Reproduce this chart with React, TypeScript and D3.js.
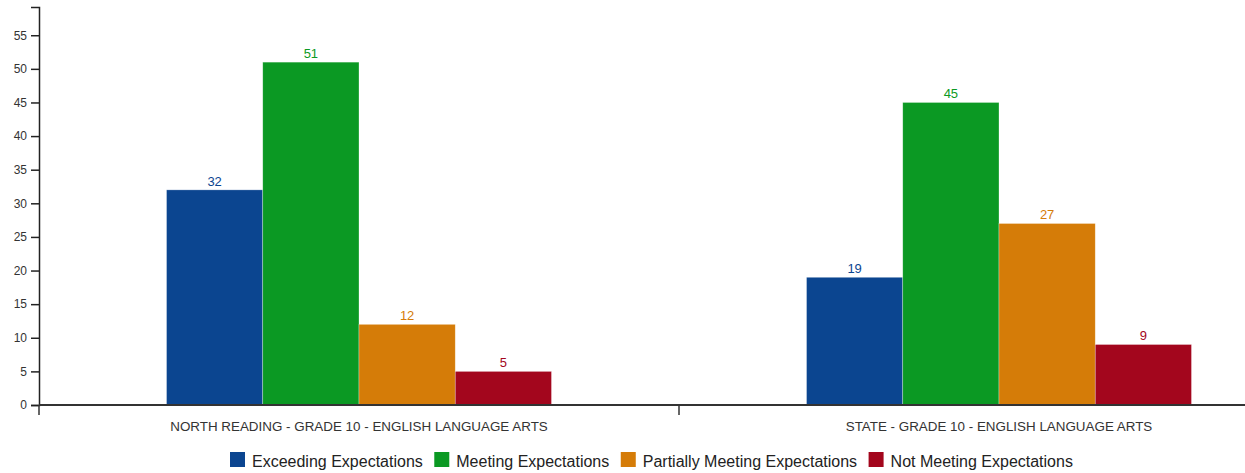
import React, { useEffect, useRef } from "react";
import * as d3 from "d3";

const categories = [
  "NORTH READING - GRADE 10 - ENGLISH LANGUAGE ARTS",
  "STATE - GRADE 10 - ENGLISH LANGUAGE ARTS",
];
const seriesNames = [
  "Exceeding Expectations",
  "Meeting Expectations",
  "Partially Meeting Expectations",
  "Not Meeting Expectations",
];
const seriesColors = ["#0b4590", "#0b9923", "#d57c08", "#a3061d"];
const northValues = [32, 51, 12, 5];
const stateValues = [19, 45, 27, 9];
const yTicks = [0, 5, 10, 15, 20, 25, 30, 35, 40, 45, 50, 55];

const W = 1245;
const H = 473;
const FONT = "'Liberation Sans', Arial, sans-serif";

export default function App() {
  const ref = useRef<SVGSVGElement | null>(null);

  useEffect(() => {
    const svg = d3.select(ref.current);
    svg.selectAll("*").remove();

    const x0 = 39;
    const y0 = 405;
    const yTop = 7;
    const bandW = 640;

    const x = d3
      .scaleBand<string>()
      .domain(categories)
      .range([x0, x0 + bandW * categories.length])
      .padding(0);
    const xi = d3
      .scaleBand<string>()
      .domain(seriesNames)
      .range([0, x.bandwidth()])
      .paddingInner(0)
      .paddingOuter(1.325);
    const y = d3.scaleLinear().domain([0, 59.2]).range([y0, yTop]);

    const data = [northValues, stateValues];

    // bars
    categories.forEach((cat, ci) => {
      const g = svg.append("g").attr("transform", `translate(${x(cat)},0)`);
      seriesNames.forEach((s, si) => {
        const v = data[ci][si];
        g.append("rect")
          .attr("x", xi(s)!)
          .attr("y", y(v))
          .attr("width", xi.bandwidth())
          .attr("height", y(0) - y(v))
          .attr("fill", seriesColors[si])
          .attr("stroke", "rgba(255,255,255,0.5)")
          .attr("stroke-width", 0.6);
        g.append("text")
          .attr("x", xi(s)! + xi.bandwidth() / 2)
          .attr("y", y(v) - 4)
          .attr("text-anchor", "middle")
          .attr("font-family", FONT)
          .attr("font-size", 13)
          .attr("fill", seriesColors[si])
          .text(String(v));
      });
    });

    // y axis
    const yAxis = d3
      .axisLeft(y)
      .tickValues(yTicks)
      .tickSize(8)
      .tickSizeOuter(8)
      .tickPadding(4)
      .tickFormat(d3.format("d") as any);
    const ga = svg
      .append("g")
      .attr("transform", `translate(${x0},0)`)
      .call(yAxis as any);
    ga.select(".domain").attr("stroke", "#222").attr("stroke-width", 1.5);
    ga.selectAll(".tick line").attr("stroke", "#222").attr("stroke-width", 1.5);
    ga.selectAll(".tick text")
      .attr("font-family", FONT)
      .attr("font-size", 12)
      .attr("fill", "#333");

    // x axis
    const gx = svg.append("g");
    gx.append("line")
      .attr("x1", x0)
      .attr("x2", W)
      .attr("y1", y0)
      .attr("y2", y0)
      .attr("stroke", "#333")
      .attr("stroke-width", 2);
    categories.forEach((cat) => {
      gx.append("line")
        .attr("x1", x(cat)!)
        .attr("x2", x(cat)!)
        .attr("y1", y0)
        .attr("y2", y0 + 10)
        .attr("stroke", "#333")
        .attr("stroke-width", 1.5);
      gx.append("text")
        .attr("x", x(cat)! + x.bandwidth() / 2)
        .attr("y", 431)
        .attr("text-anchor", "middle")
        .attr("font-family", FONT)
        .attr("font-size", 13.4)
        .attr("fill", "#333")
        .text(cat);
    });

    // legend
    const lg = svg.append("g");
    let lx = 230;
    seriesNames.forEach((s, si) => {
      lg.append("rect")
        .attr("x", lx)
        .attr("y", 452)
        .attr("width", 15)
        .attr("height", 15)
        .attr("fill", seriesColors[si]);
      const t = lg
        .append("text")
        .attr("x", lx + 22)
        .attr("y", 467)
        .attr("font-family", FONT)
        .attr("font-size", 16)
        .attr("fill", "#222")
        .text(s);
      const w = (t.node() as SVGTextElement).getComputedTextLength();
      lx = lx + 22 + w + 11.5;
    });
  }, []);

  return (
    <svg
      ref={ref}
      width={W}
      height={H}
      style={{ position: "absolute", left: 0, top: 0, background: "#fff" }}
    />
  );
}
